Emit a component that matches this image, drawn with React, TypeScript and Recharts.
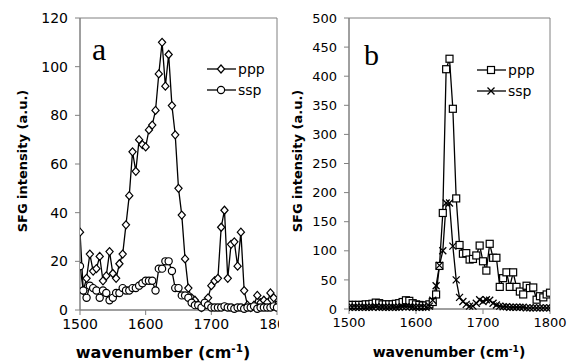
import React from 'react';
import { LineChart, Line, XAxis, YAxis, ReferenceArea } from 'recharts';

// wavenumber grid (cm-1), shared by both panels
const wavenumbers = [
  1500, 1505, 1510, 1515, 1520, 1525, 1530, 1535, 1540, 1545,
  1550, 1555, 1560, 1565, 1570, 1575, 1580, 1585, 1590, 1595,
  1600, 1605, 1610, 1615, 1620, 1625, 1630, 1635, 1640, 1645,
  1650, 1655, 1660, 1665, 1670, 1675, 1680, 1685, 1690, 1695,
  1700, 1705, 1710, 1715, 1720, 1725, 1730, 1735, 1740, 1745,
  1750, 1755, 1760, 1765, 1770, 1775, 1780, 1785, 1790, 1795,
  1800,
];

// panel a
const pppA = [
  32, 8, 13, 23, 16, 17, 22, 12, 14, 24,
  15, 13, 19, 23, 35, 47, 65, 57, 70, 68,
  67, 74, 76, 82, 97, 110, 92, 105, 84, 72,
  50, 39, 21, 9, 5, 4, 2, 1, 2, 5,
  10, 12, 13, 34, 41, 13, 27, 28, 18, 32,
  8, 2, 1, 2, 6, 3, 4, 3, 7, 5,
  2,
];
const sspA = [
  18, 8, 5, 10, 9, 8, 5, 8, 7, 4,
  5, 7, 7, 9, 8, 8, 9, 9, 10, 11,
  12, 12, 12, 8, 17, 17, 20, 20, 16, 9,
  9, 6, 6, 5, 3, 2, 2, 1, 3, 2,
  1, 1, 1, 1, 1.5, 1, 1, 0.5, 1, 1,
  0.5, 1, 1, 1.5, 0.5, 1, 1, 1, 1, 1.5,
  1,
];

// panel b
const pppB = [
  7, 7, 7, 7, 7, 8, 8, 9, 11, 10,
  8, 8, 8, 8, 9, 10, 12, 15, 14, 10,
  8, 7, 6, 6, 8, 12, 25, 74, 165, 412,
  430, 344, 190, 110, 95, 96, 85, 86, 92, 109,
  82, 66, 112, 88, 88, 38, 53, 63, 38, 63,
  38, 30, 25, 40, 36, 37, 16, 22, 20, 25,
  28,
];
const sspB = [
  3, 3, 3, 3, 3, 3, 3, 3, 4, 3,
  3, 3, 3, 3, 3, 3, 4, 4, 4, 3,
  3, 3, 3, 3, 5, 15, 40, 75, 100, 182,
  182, 108, 50, 20, 13, 8, 5, 5, 10, 16,
  13, 16, 15, 10, 7, 5, 4, 4, 3, 3,
  3, 3, 3, 2, 2, 2, 2, 2, 2, 2,
  2,
];

const xTicks = [1500, 1600, 1700, 1800];
const yTicksA = [0, 20, 40, 60, 80, 100, 120];
const yTicksB = [0, 50, 100, 150, 200, 250, 300, 350, 400, 450, 500];

const dataA = wavenumbers.map((w, i) => ({ w, ppp: pppA[i], ssp: sspA[i] }));
const dataB = wavenumbers.map((w, i) => ({ w, ppp: pppB[i], ssp: sspB[i] }));

const GRAY = '#808080';
const SANS = '"DejaVu Sans", Arial, sans-serif';
const SERIF = '"Liberation Serif", "Times New Roman", serif';

type Shape = 'diamond' | 'circle' | 'square' | 'cross';

function marker(shape: Shape, cx: number, cy: number, key?: string) {
  const common = { fill: '#fff', stroke: '#000', strokeWidth: 1.2 };
  if (shape === 'diamond') {
    return <path key={key} d={`M${cx},${cy - 4}L${cx + 3.6},${cy}L${cx},${cy + 4}L${cx - 3.6},${cy}Z`} {...common} />;
  }
  if (shape === 'circle') {
    return <circle key={key} cx={cx} cy={cy} r={3.6} {...common} />;
  }
  if (shape === 'square') {
    return <rect key={key} x={cx - 3.5} y={cy - 3.5} width={7} height={7} {...common} />;
  }
  return (
    <path key={key} d={`M${cx - 3.5},${cy - 3.5}L${cx + 3.5},${cy + 3.5}M${cx - 3.5},${cy + 3.5}L${cx + 3.5},${cy - 3.5}`}
      fill="none" stroke="#000" strokeWidth={1.3} />
  );
}

function dotFor(shape: Shape) {
  return (p: any) => {
    if (p.cx == null || p.cy == null) return <g key={`e-${p.index}`} />;
    return marker(shape, p.cx, p.cy, `${shape}-${p.index}`);
  };
}

// little legend box in the upper right of each panel
function LegendBox({ items, fontSize, left, top }: { items: [string, Shape][]; fontSize: number; left: number; top: number }) {
  return (
    <div style={{ position: 'absolute', left, top, fontFamily: SANS, fontSize }}>
      {items.map(([name, shape]) => (
        <div key={name} style={{ display: 'flex', alignItems: 'center', height: 21 }}>
          <svg width={31} height={12}>
            <line x1={1} y1={6} x2={30} y2={6} stroke="#000" strokeWidth={1.3} />
            {marker(shape, 15, 6)}
          </svg>
          <span style={{ marginLeft: 1 }}>{name}</span>
        </div>
      ))}
    </div>
  );
}

interface PanelProps {
  data: { w: number; ppp: number; ssp: number }[];
  width: number;
  yMax: number;
  yTicks: number[];
  yAxisWidth: number;
  marginRight: number;
  marginBottom: number;
  shapes: [Shape, Shape];
  tickFont: number;
}

function Panel(props: PanelProps) {
  const { data, width, yMax, yTicks, yAxisWidth, marginRight, marginBottom, shapes, tickFont } = props;
  const tick = { fill: '#000', fontSize: tickFont, fontFamily: SANS };
  return (
    <LineChart width={width} height={362} data={data}
      margin={{ top: 18, right: marginRight, left: 0, bottom: marginBottom }}>
      <XAxis dataKey="w" type="number" domain={[1500, 1800]} ticks={xTicks} interval={0}
        height={30} tick={tick} tickSize={5} tickMargin={4}
        axisLine={{ stroke: GRAY }} tickLine={{ stroke: GRAY }} allowDataOverflow />
      <YAxis type="number" domain={[0, yMax]} ticks={yTicks} interval={0} width={yAxisWidth}
        tick={tick} tickSize={5} tickMargin={7}
        axisLine={{ stroke: GRAY }} tickLine={{ stroke: GRAY }} />
      <ReferenceArea x1={1500} x2={1800} y1={0} y2={yMax} fill="none" stroke={GRAY} strokeWidth={1} />
      <Line dataKey="ppp" stroke="#000" strokeWidth={1.3} dot={dotFor(shapes[0])} isAnimationActive={false} />
      <Line dataKey="ssp" stroke="#000" strokeWidth={1.3} dot={dotFor(shapes[1])} isAnimationActive={false} />
    </LineChart>
  );
}

const yLabelStyle = (left: number, fontSize: number): React.CSSProperties => ({
  position: 'absolute', left, top: 161, transform: 'translate(-50%, -50%) rotate(-90deg)',
  fontFamily: SANS, fontWeight: 'bold', fontSize, whiteSpace: 'nowrap',
});

const xLabelStyle = (left: number, fontSize: number): React.CSSProperties => ({
  position: 'absolute', left, top: 352, transform: 'translate(-50%, -50%)',
  fontFamily: SANS, fontWeight: 'bold', fontSize, whiteSpace: 'nowrap',
});

export default function App() {
  return (
    <div style={{ position: 'fixed', left: 0, top: 0, width: 568, height: 362, background: '#fff', overflow: 'hidden' }}>
      {/* panel a, clipped on the right like the original figure */}
      <div style={{ position: 'absolute', left: 0, top: 0, width: 279, height: 362, overflow: 'hidden' }}>
        <Panel data={dataA} width={290} yMax={120} yTicks={yTicksA} yAxisWidth={80} marginRight={13}
          marginBottom={22} shapes={['diamond', 'circle']} tickFont={14} />
        <LegendBox items={[['ppp', 'diamond'], ['ssp', 'circle']]} fontSize={14} left={206} top={58} />
        <div style={{ position: 'absolute', left: 92, top: 31, fontFamily: SERIF, fontSize: 32 }}>a</div>
        <div style={yLabelStyle(22, 13)}>SFG intensity (a.u.)</div>
        <div style={xLabelStyle(163, 16)}>wavenumber (cm<sup style={{ fontSize: '0.65em' }}>-1</sup>)</div>
      </div>
      {/* panel b */}
      <div style={{ position: 'absolute', left: 279, top: 0, width: 289, height: 362 }}>
        <Panel data={dataB} width={289} yMax={500} yTicks={yTicksB} yAxisWidth={70} marginRight={18}
          marginBottom={23} shapes={['square', 'cross']} tickFont={13} />
        <LegendBox items={[['ppp', 'square'], ['ssp', 'cross']]} fontSize={14} left={197} top={59} />
        <div style={{ position: 'absolute', left: 85, top: 38, fontFamily: SERIF, fontSize: 30 }}>b</div>
        <div style={yLabelStyle(18, 13)}>SFG intensity (a.u.)</div>
        <div style={xLabelStyle(170, 14)}>wavenumber (cm<sup style={{ fontSize: '0.65em' }}>-1</sup>)</div>
      </div>
    </div>
  );
}
